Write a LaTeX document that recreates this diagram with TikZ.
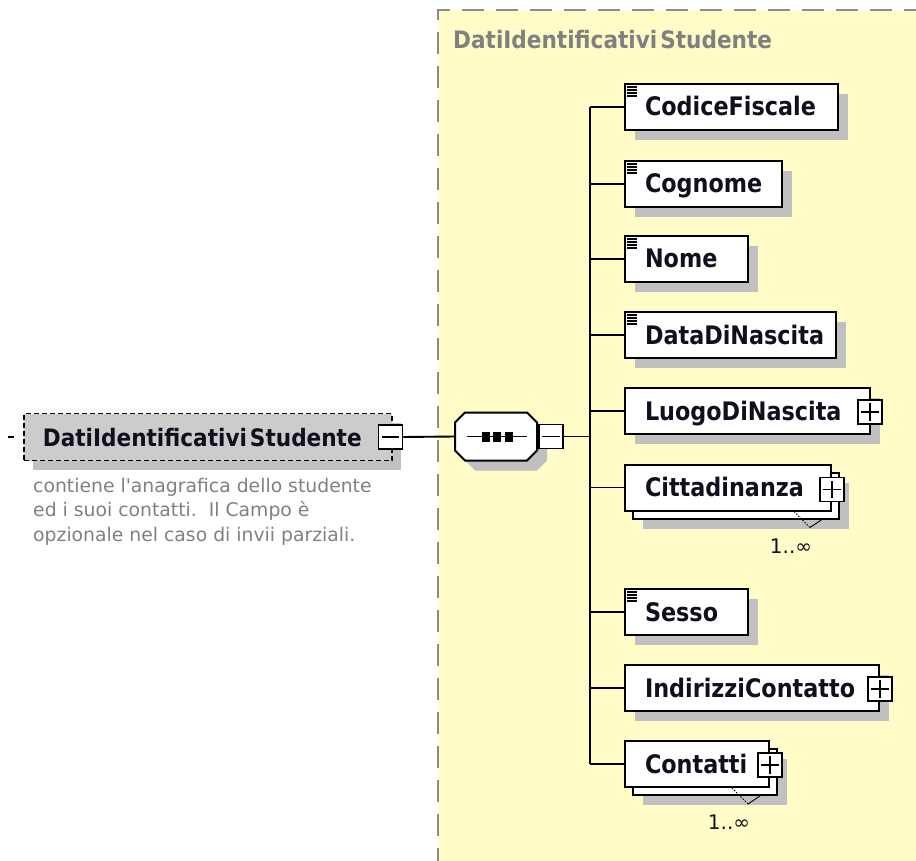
\documentclass[tikz,border=0pt]{standalone}
\usepackage{fontspec}
\setmainfont{DejaVu Sans}
\newfontfamily\narrowfont[FakeStretch=0.9]{DejaVu Sans}
\newfontfamily\lblfamily[FakeStretch=0.875]{DejaVu Sans}
\newfontfamily\descfont[Ligatures=TeXOff]{DejaVu Sans}
\usetikzlibrary{shadows,calc}
\definecolor{yel}{RGB}{255,252,200}
\definecolor{shd}{RGB}{192,192,192}
\definecolor{boxg}{RGB}{204,204,204}
\definecolor{bord}{RGB}{140,140,140}
\definecolor{desc}{RGB}{128,128,128}
\definecolor{lbl}{RGB}{15,15,30}
\newcommand\lblfont{\lblfamily\bfseries\fontsize{25.5}{30}\selectfont}
\newcommand\simpleicon[1]{\foreach \k in {4,7,10,13} \draw[line width=1.2pt] ($(#1.north west)+(3,\k)$) -- ++(10,0);}
\newcommand\plusmark[1]{\draw[line width=1.5pt] ($(#1.west)+(4,0)$) -- ($(#1.east)+(-4,0)$) ($(#1.north)+(0,4)$) -- ($(#1.south)+(0,-4)$);}
\newcommand\minusmark[1]{\draw[line width=1.5pt] ($(#1.west)+(4,0)$) -- ($(#1.east)+(-4,0)$);}
\tikzset{
  elembase/.style={draw=black, line width=2pt, fill=white, anchor=west, align=left,
    inner xsep=20pt, inner ysep=0pt, minimum height=46pt, text height=21pt, text depth=3pt,
    font=\lblfont, text=lbl},
  single/.style={elembase, general shadow={fill=shd, shadow xshift=10pt, shadow yshift=-10pt}},
  multi/.style={elembase, general shadow={fill=shd, shadow xshift=18pt, shadow yshift=-18pt},
    copy shadow={fill=white, draw=black, line width=2pt, shadow xshift=8pt, shadow yshift=-8pt}},
  pmbox/.style={draw=black, line width=1.5pt, fill=white, minimum size=24pt, inner sep=0pt},
  conn/.style={line width=1.9pt, draw=black},
  mult/.style={font=\fontsize{20}{22}\selectfont, text=lbl, inner sep=0pt},
  vdot/.style={line width=0.9pt, dash pattern=on 1.5pt off 1.5pt},
  vsol/.style={line width=0.9pt}
}
\begin{document}
\begin{tikzpicture}[x=1pt,y=-1pt]
\useasboundingbox (0,0) rectangle (916,861);
% yellow group box
\fill[yel] (438,10) rectangle (930,870);
\draw[bord, line width=2.2pt, dash pattern=on 22pt off 12pt] (438,870) -- (438,10) -- (930,10);
\node[anchor=west, text=desc, font=\narrowfont\bfseries\fontsize{24}{28}\selectfont, inner sep=0pt] (title) at (453,40) {DatiIdentificativi\kern3pt Studente};

% root element
\node[draw=black, line width=1.8pt, dash pattern=on 5pt off 3pt, fill=boxg, anchor=west,
  minimum width=368pt, minimum height=47pt, inner xsep=19pt, inner ysep=0pt,
  text height=21pt, text depth=3pt, align=left, text width=330pt,
  font=\narrowfont\bfseries\fontsize{24}{28}\selectfont, text=lbl,
  general shadow={fill=shd, shadow xshift=9pt, shadow yshift=-9pt}] (root) at (23,437) {DatiIdentificativi\kern3pt Studente};
\node[pmbox] (rootm) at (390.5,437) {};
\minusmark{rootm}
\coordinate (ldA) at (8,437);
\coordinate (ldB) at (14,437);
\draw[line width=1.5pt] (ldA) -- (ldB);
\node[anchor=north west, align=left, text=desc, font=\descfont\fontsize{18.8}{24.5}\selectfont, inner sep=0pt] (desc) at (33,478)
  {contiene l'anagrafica dello studente\\ed i suoi contatti.\ \ Il Campo è\\opzionale nel caso di invii parziali.};

% sequence compositor
\node[minimum width=82pt, minimum height=48pt, inner sep=0pt] (seq) at (496,436.5) {};
\begin{scope}[shift={(seq.center)}]
\fill[shd, shift={(10,10)}] (-31,-24) -- (31,-24) -- (41,-14) -- (41,14) -- (31,24) -- (-31,24) -- (-41,14) -- (-41,-14) -- cycle;
\filldraw[fill=white, draw=black, line width=2pt] (-31,-24) -- (31,-24) -- (41,-14) -- (41,14) -- (31,24) -- (-31,24) -- (-41,14) -- (-41,-14) -- cycle;
\draw[line width=1.6pt] (-29,0) -- (31,0);
\fill (-14,-5) rectangle (-6,5);
\fill (-3,-5) rectangle (5,5);
\fill (9,-5) rectangle (17,5);
\end{scope}
\node[pmbox] (seqm) at (551,436.5) {};
\minusmark{seqm}
\draw[conn] (rootm.east) -- (seq.west);

% children
\node[single, text width=173pt] (cf) at (624,107) {CodiceFiscale};
\node[single, text width=117pt] (cg) at (624,184) {Cognome};
\node[single, text width=83pt] (nm) at (624,259) {Nome};
\node[single, text width=171pt] (dn) at (624,335) {DataDiNascita};
\node[single, text width=205pt] (ln) at (624,411) {LuogoDiNascita};
\node[multi, text width=166pt] (ci) at (624,487.5) {Cittadinanza};
\node[single, text width=83pt] (ss) at (624,612) {Sesso};
\node[single, text width=214pt] (ic) at (624,688) {IndirizziContatto};
\node[multi, text width=104pt] (co) at (624,764) {Contatti};

\simpleicon{cf}
\simpleicon{cg}
\simpleicon{nm}
\simpleicon{dn}
\simpleicon{ss}

\node[pmbox] (lnp) at ($(ln.east)+(-1,1)$) {};
\plusmark{lnp}
\node[pmbox] (icp) at ($(ic.east)+(0,1)$) {};
\plusmark{icp}
\node[pmbox] (cip) at ($(ci.east)+(0,2)$) {};
\plusmark{cip}
\node[pmbox] (cop) at ($(co.east)+(0,1)$) {};
\plusmark{cop}

% multiplicity marks
\draw[vdot] ($(ci.south east)+(-38,0)$) -- ($(ci.south east)+(-22,16)$);
\draw[vsol] ($(ci.south east)+(-22,16)$) -- ($(ci.south east)+(-10,8)$);
\node[mult] (cimul) at ($(ci.south east)+(-41,35)$) {1..∞};
\draw[vdot] ($(co.south east)+(-38,0)$) -- ($(co.south east)+(-22,16)$);
\draw[vsol] ($(co.south east)+(-22,16)$) -- ($(co.south east)+(-10,8)$);
\node[mult] (comul) at ($(co.south east)+(-41,34)$) {1..∞};

% bus
\coordinate (bmid) at (590,436.5);
\coordinate (b1) at (590,107);
\coordinate (b2) at (590,184);
\coordinate (b3) at (590,259);
\coordinate (b4) at (590,335);
\coordinate (b5) at (590,411);
\coordinate (b6) at (590,487.5);
\coordinate (b7) at (590,612);
\coordinate (b8) at (590,688);
\coordinate (b9) at (590,764);
\draw[conn] (seqm.east) -- (bmid);
\draw[conn] (b1) -- (b9);
\draw[conn] (b1) -- (cf.west);
\draw[conn] (b2) -- (cg.west);
\draw[conn] (b3) -- (nm.west);
\draw[conn] (b4) -- (dn.west);
\draw[conn] (b5) -- (ln.west);
\draw[conn] (b6) -- (ci.west);
\draw[conn] (b7) -- (ss.west);
\draw[conn] (b8) -- (ic.west);
\draw[conn] (b9) -- (co.west);
\end{tikzpicture}
\end{document}
